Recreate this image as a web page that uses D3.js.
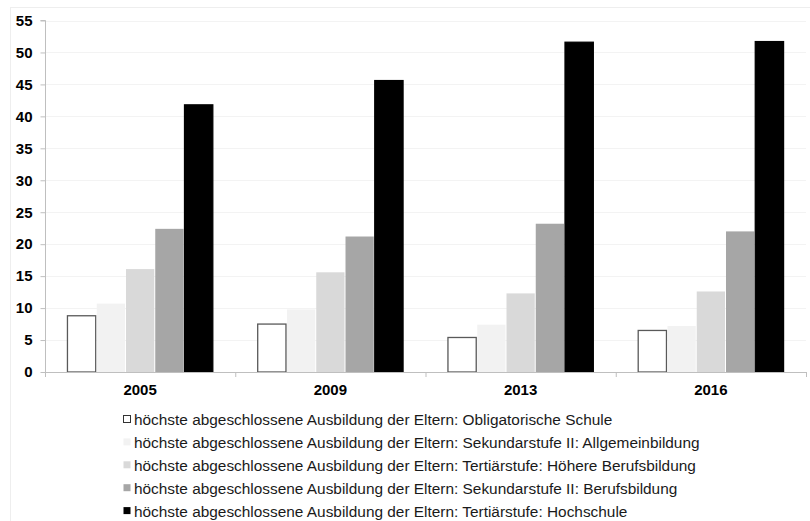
<!DOCTYPE html>
<html>
<head>
<meta charset="utf-8">
<script src="https://cdn.jsdelivr.net/npm/d3@7"></script>
<style>
  html, body { margin: 0; padding: 0; background: #fff; }
  svg { display: block; font-family: "Liberation Sans", Arial, sans-serif; }
</style>
</head>
<body>
<svg id="chart" width="810" height="521"></svg>
<script>
const years = ["2005", "2009", "2013", "2016"];
const seriesNames = [
  "höchste abgeschlossene Ausbildung der Eltern: Obligatorische Schule",
  "höchste abgeschlossene Ausbildung der Eltern: Sekundarstufe II: Allgemeinbildung",
  "höchste abgeschlossene Ausbildung der Eltern: Tertiärstufe: Höhere Berufsbildung",
  "höchste abgeschlossene Ausbildung der Eltern: Sekundarstufe II: Berufsbildung",
  "höchste abgeschlossene Ausbildung der Eltern: Tertiärstufe: Hochschule"
];
const obligatorisch = [8.8, 7.5, 5.4, 6.5];
const allgemeinbildung = [10.7, 9.8, 7.4, 7.2];
const hoehereBerufsbildung = [16.1, 15.6, 12.3, 12.6];
const berufsbildung = [22.4, 21.2, 23.2, 22.0];
const hochschule = [41.8, 45.6, 51.6, 51.7];
const yTicks = [0, 5, 10, 15, 20, 25, 30, 35, 40, 45, 50, 55];

const seriesValues = [obligatorisch, allgemeinbildung, hoehereBerufsbildung, berufsbildung, hochschule];
const fills = ["#ffffff", "#f2f2f2", "#d9d9d9", "#a6a6a6", "#000000"];
const strokes = ["#595959", "none", "none", "none", "#000000"];

const svg = d3.select("#chart");

const x = d3.scaleBand().domain(years).range([45, 806]).padding(0);
const xs = d3.scaleBand().domain(d3.range(seriesNames.length))
  .range([0, x.bandwidth()]).paddingInner(0).paddingOuter(0.75);
const y = d3.scaleLinear().domain([0, 55]).range([372, 20.5]);

// outer faint frame
svg.append("rect").attr("x", 10.5).attr("y", 7.5).attr("width", 810).attr("height", 530)
  .attr("fill", "none").attr("stroke", "#eeeeee");

// gridlines
svg.append("g").selectAll("line").data(yTicks.filter(d => d > 0)).join("line")
  .attr("x1", 45).attr("x2", 806)
  .attr("y1", d => Math.round(y(d)) + 0.5).attr("y2", d => Math.round(y(d)) + 0.5)
  .attr("stroke", "#f3f3f3");

// bars
const data = [];
years.forEach((yr, i) => seriesValues.forEach((vals, s) => data.push({ yr, s, v: vals[i] })));
svg.append("g").selectAll("rect").data(data).join("rect")
  .attr("x", d => x(d.yr) + xs(d.s) + 0.5)
  .attr("width", xs.bandwidth() - 1)
  .attr("y", d => y(d.v))
  .attr("height", d => y(0) - y(d.v))
  .attr("fill", d => fills[d.s])
  .attr("stroke", d => strokes[d.s])
  .attr("stroke-width", 1.3);

// y axis
const yAxis = d3.axisLeft(y).tickValues(yTicks).tickSize(5).tickPadding(8).tickFormat(d3.format("d"));
const gy = svg.append("g").attr("transform", "translate(45.5,0)").call(yAxis);
gy.select(".domain").attr("stroke", "#bfbfbf").attr("d", `M-5,${y(55)}H0V${y(0)}`);
gy.selectAll(".tick line").attr("stroke", "#bfbfbf");
gy.selectAll(".tick text").attr("font-size", 15).attr("font-weight", "bold")
  .attr("fill", "#000").attr("font-family", "Liberation Sans, Arial, sans-serif");

// x axis
const xAxis = d3.axisBottom(x).tickSize(0).tickPadding(12);
const gx = svg.append("g").attr("transform", `translate(0,${y(0) + 0.5})`).call(xAxis);
gx.select(".domain").attr("stroke", "#bfbfbf").attr("d", "M45,0H806");
gx.selectAll(".tick text").attr("font-size", 15).attr("font-weight", "bold")
  .attr("fill", "#000").attr("font-family", "Liberation Sans, Arial, sans-serif");
// category separator ticks
svg.append("g").selectAll("line").data(years.concat(["end"])).join("line")
  .attr("x1", (d, i) => (i < years.length ? x(d) : x.range()[1]) + 0.5)
  .attr("x2", (d, i) => (i < years.length ? x(d) : x.range()[1]) + 0.5)
  .attr("y1", y(0)).attr("y2", y(0) + 5)
  .attr("stroke", "#bfbfbf");

// legend
const legend = svg.append("g").selectAll("g").data(seriesNames).join("g")
  .attr("transform", (d, i) => `translate(123,${419.5 + i * 22.9})`);
legend.append("rect").attr("x", 0.5).attr("y", -4).attr("width", 7).attr("height", 7)
  .attr("fill", (d, i) => fills[i])
  .attr("stroke", (d, i) => i === 0 ? "#333" : "none");
legend.append("text").attr("x", 11).attr("y", 5.5)
  .attr("font-size", 15.4).attr("fill", "#1a1a1a")
  .text(d => d);
</script>
</body>
</html>
